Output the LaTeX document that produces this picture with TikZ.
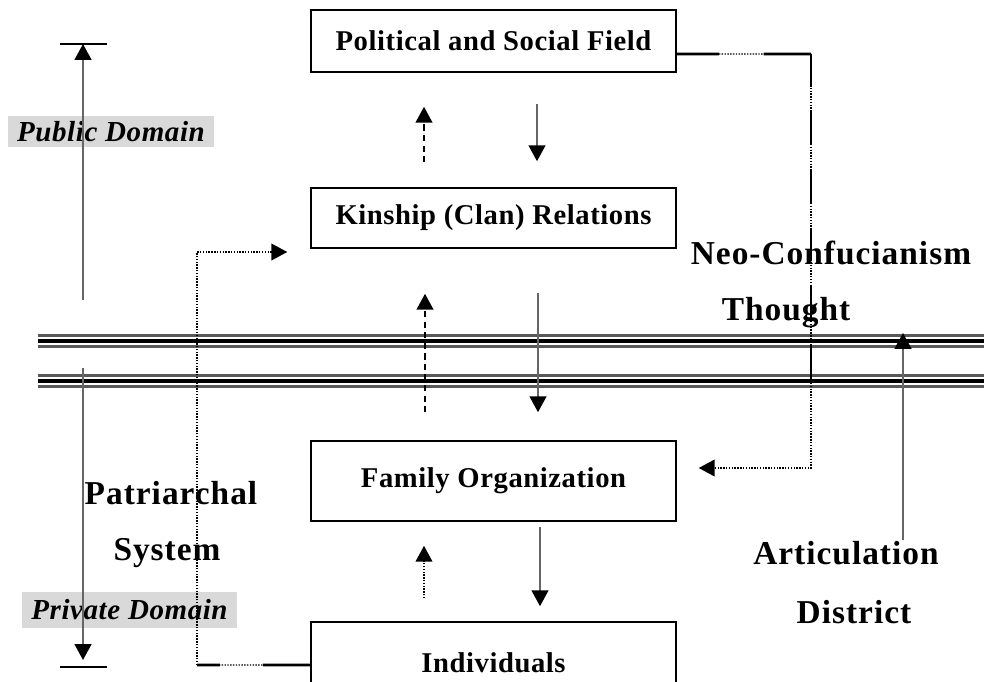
\documentclass[tikz,border=0pt]{standalone}
\usepackage{fontspec}
\setmainfont{Liberation Serif}
\newfontfamily\spacedserif[LetterSpace=2]{Liberation Serif}
\newfontfamily\widespacedserif[LetterSpace=3]{Liberation Serif}
\usetikzlibrary{arrows.meta}

\newcommand{\boxfont}{\spacedserif\bfseries\fontsize{16.3}{19}\selectfont}
\newcommand{\bigfont}{\widespacedserif\bfseries\fontsize{19}{22}\selectfont}
\newcommand{\domfont}{\spacedserif\bfseries\itshape\fontsize{16.5}{19}\selectfont}

\begin{document}
\begin{tikzpicture}[x=0.02cm, y=-0.02cm,
    tip/.style={-{Triangle[length=9pt,width=9.5pt,color=black]}},
    fieldbox/.style={draw, line width=0.9pt, minimum width=7.3cm, font=\boxfont},
    bigtext/.style={font=\bigfont},
    domainlabel/.style={fill=black!15, font=\domfont, inner sep=0pt},
    grayline/.style={draw=black!60, line width=1.1pt},
    dashedarr/.style={line width=1pt, dash pattern=on 3.5pt off 2.5pt},
    dotline/.style={line width=0.8pt, dash pattern=on 0.8pt off 0.8pt}]
\useasboundingbox (0,0) rectangle (984,682);
\clip (0,0) rectangle (984,682);

% the four fields
\node[fieldbox, minimum height=1.24cm] (polit) at (493.5,41) {Political and Social Field};
\node[fieldbox, minimum height=1.2cm] (kin) at (493.5,218) {Kinship (Clan) Relations};
\node[fieldbox, minimum height=1.6cm] (fam) at (493.5,481) {Family Organization};
\node[fieldbox, minimum height=1.64cm] (indiv) at (493.5,663) {Individuals};

% labels
\node[domainlabel, minimum width=4.12cm, minimum height=0.62cm] (public) at (111,131.5) {Public Domain};
\node[domainlabel, minimum width=4.3cm, minimum height=0.72cm] (private) at (129.5,610) {Private Domain};
\node[bigtext] (neo) at (831,253) {Neo-Confucianism};
\node[bigtext] (thought) at (786,313) {Thought};
\node[bigtext] (patri) at (171,493) {Patriarchal};
\node[bigtext] (system) at (167,553) {System};
\node[bigtext] (artic) at (846,553) {Articulation};
\node[bigtext] (district) at (854,612) {District};

\coordinate (pubtop) at (83,44);
\coordinate (pubfoot) at (83,300);
\coordinate (privtop) at (83,368);
\coordinate (privfoot) at (83,660);
\coordinate (arttop) at (903,333);
\coordinate (artfoot) at (903,540);
\coordinate (ncorner) at (811,54);
\coordinate (nthick) at (811,390);
\coordinate (wcorner) at (197,665);

% the double border lines
\foreach \y in {341,381} {
    \draw[line width=1.2pt, black!65] (38,\y-5.5) -- (984,\y-5.5);
    \draw[line width=2pt] (38,\y) -- (984,\y);
    \draw[line width=1.2pt, black!65] (38,\y+5.5) -- (984,\y+5.5);
}

% arrows between the fields
\draw[dashedarr, tip] ([shift={(-69.5,-25)}]kin.north) -- ([shift={(-69.5,34)}]polit.south);
\draw[grayline, tip] ([shift={(43.5,31)}]polit.south) -- ([shift={(43.5,-26)}]kin.north);
\draw[dashedarr, tip] ([shift={(-68.5,-28)}]fam.north) -- ([shift={(-68.5,45)}]kin.south);
\draw[grayline, tip] ([shift={(44.5,44)}]kin.south) -- ([shift={(44.5,-28)}]fam.north);
\draw[dotline, tip] ([shift={(-69.5,-23)}]indiv.north) -- ([shift={(-69.5,24)}]fam.south);
\draw[grayline, tip] ([shift={(46.5,5)}]fam.south) -- ([shift={(46.5,-15)}]indiv.north);

% Neo-Confucianism link
\draw[line width=1.5pt, dash pattern=on 24pt off 25.5pt on 30pt] ([yshift=-0.26cm]polit.east) -- (ncorner);
\draw[dotline] ([yshift=-0.26cm]polit.east) -- (ncorner);
\draw[line width=1.6pt, dash pattern=on 19pt off 14pt] (ncorner) -- (nthick);
\draw[dotline, tip] (ncorner) |- ([shift={(22,-13)}]fam.east);

% patriarchal link
\draw[line width=1.5pt, dash pattern=on 27pt off 24.5pt on 20pt] ([yshift=-0.04cm]indiv.west) -- (wcorner);
\draw[dotline] ([yshift=-0.04cm]indiv.west) -- (wcorner);
\draw[dotline, tip] (wcorner) |- ([shift={(-23,34)}]kin.west);

% domain and articulation arrows
\draw[line width=0.9pt] ([xshift=-0.46cm]pubtop) -- ([xshift=0.48cm]pubtop);
\draw[grayline, tip] (pubfoot) -- (pubtop);
\draw[grayline, tip] (privtop) -- (privfoot);
\draw[line width=0.9pt] ([shift={(-23,7)}]privfoot) -- ([shift={(24,7)}]privfoot);
\draw[grayline, tip] (artfoot) -- (arttop);
\end{tikzpicture}
\end{document}
